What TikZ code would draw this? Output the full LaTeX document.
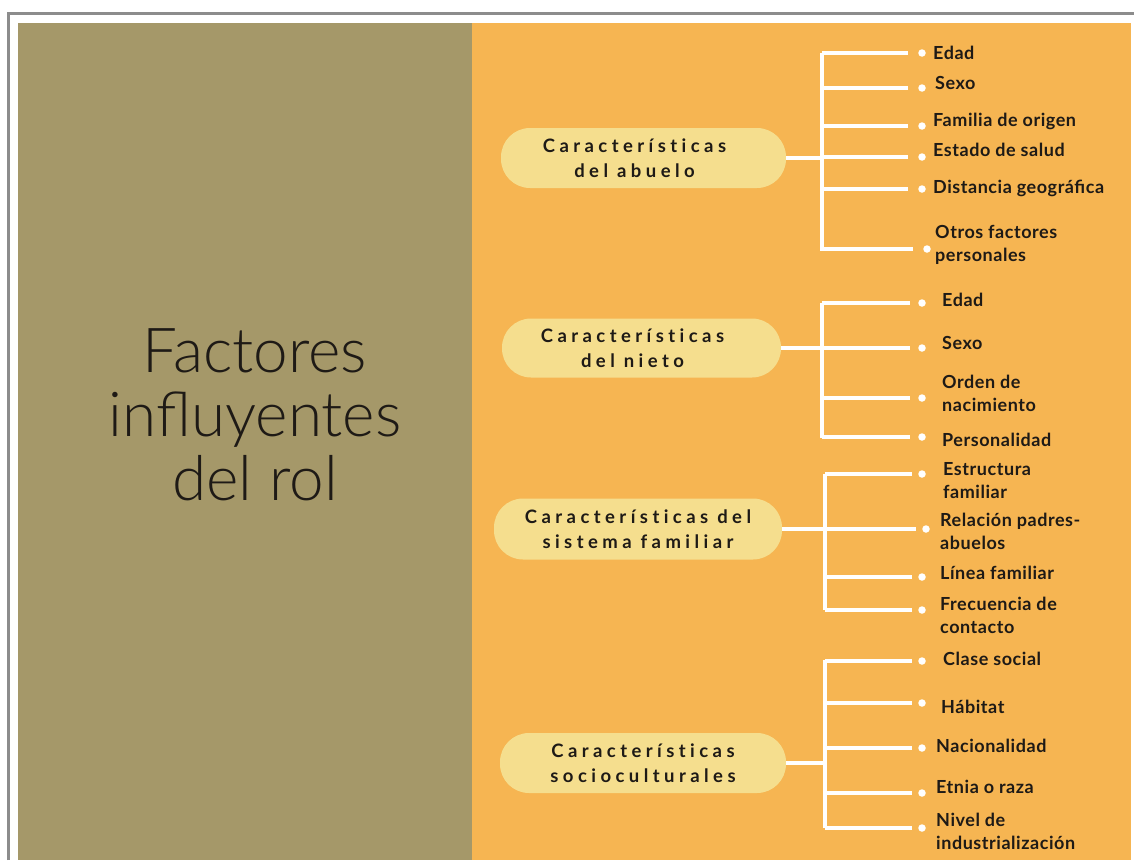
\documentclass[tikz,border=0pt]{standalone}
\usepackage{fontspec}
\setmainfont{Lato}[LetterSpace=3]
\IfFontExistsTF{Lato Light}{\newfontfamily\titlefont{Lato Light}}{\newfontfamily\titlefont{Lato}}
\newfontfamily\catfont{Lato}[LetterSpace=24, RawFeature=-liga]
\usepackage{tikz}
\definecolor{panelolive}{HTML}{A59869}
\definecolor{panelorange}{HTML}{F6B552}
\definecolor{pillyellow}{HTML}{F5DE8E}
\definecolor{framegray}{HTML}{8C8C8C}
\definecolor{inkblack}{HTML}{1E1A16}
\newcommand{\padR}{\hspace*{18pt}}

\begin{document}
\begin{tikzpicture}[x=1pt,y=-1pt,
        pill/.style={fill=pillyellow, rounded corners=29pt, inner sep=0pt, align=center,
            text=inkblack, font=\catfont\bfseries\fontsize{18.5}{25}\selectfont},
        item/.style={anchor=west, inner sep=0pt, align=left, text=inkblack,
            font=\bfseries\fontsize{18}{23}\selectfont},
        bullet/.style={circle, fill=white, inner sep=0pt, minimum size=7.5pt},
        branch/.style={draw=white, line width=4pt}]
        \useasboundingbox[fill=white] (0,0) rectangle (1134,860);
        \draw[framegray, line width=3pt] (8.5,860) -- (8.5,13.5) -- (1134,13.5);
        \fill[panelolive] (18,23) rectangle (472,860);
        \fill[panelorange] (472,23) rectangle (1131,860);

        \node[font=\titlefont\fontsize{62}{64}\selectfont, align=center, text=inkblack] (title) at (255,415) {Factores\\influyentes\\del rol};

        % abuelo
        \node[pill, minimum width=285pt, minimum height=60pt] (abuelo) at (643.5,158) {Características\padR\\del abuelo\padR};
        \coordinate (abueloTop) at (822,53);
        \coordinate (abueloBot) at (822,251);
        \draw[branch] (abueloTop) -- (abueloBot);
        \draw[branch] (abuelo.east) -- (abuelo.east -| abueloTop);
        \foreach \dx/\dy/\tx/\ty/\txt [count=\i] in {922/53/933/53/Edad, 922/88/935/83/Sexo,
            922/126/933/121/Familia de origen, 922/157/933/150/Estado de salud,
            922/189/933/188/Distancia geográfica, 927/249/935/245/{Otros factores\\personales}} {
            \node[bullet] (abuelo-dot-\i) at (\dx,\dy) {};
            \node[item] (abuelo-txt-\i) at (\tx,\ty) {\txt};
            \draw[branch] (abueloTop |- abuelo-dot-\i) -- ([xshift=-10pt]abuelo-dot-\i.west);
        }

        % nieto
        \node[pill, minimum width=279pt, minimum height=59pt] (nieto) at (641.5,348) {Características\padR\\del nieto\padR};
        \coordinate (nietoTop) at (822,303);
        \coordinate (nietoBot) at (822,438);
        \draw[branch] (nietoTop) -- (nietoBot);
        \draw[branch] (nieto.east) -- (nieto.east -| nietoTop);
        \foreach \dx/\dy/\tx/\ty/\txt [count=\i] in {922/303/942/300/Edad, 922/348/942/343/Sexo,
            922/398/942/393/{Orden de\\nacimiento}, 922/437/942/440/Personalidad} {
            \node[bullet] (nieto-dot-\i) at (\dx,\dy) {};
            \node[item] (nieto-txt-\i) at (\tx,\ty) {\txt};
            \draw[branch] (nietoTop |- nieto-dot-\i) -- ([xshift=-8pt]nieto-dot-\i.west);
        }

        % sistema familiar
        \node[pill, minimum width=288pt, minimum height=61pt] (sistema) at (638,529) {Características del\\sistema familiar};
        \coordinate (sistemaTop) at (825,474);
        \coordinate (sistemaBot) at (825,610);
        \draw[branch] (sistemaTop) -- (sistemaBot);
        \draw[branch] (sistema.east) -- (sistema.east -| sistemaTop);
        \foreach \dx/\dy/\tx/\ty/\txt [count=\i] in {922/474/943/481/{Estructura\\familiar},
            926/529/940/531/{Relación padres-\\abuelos}, 922/577/940/573/Línea familiar,
            922/610/940/615/{Frecuencia de\\contacto}} {
            \node[bullet] (sistema-dot-\i) at (\dx,\dy) {};
            \node[item] (sistema-txt-\i) at (\tx,\ty) {\txt};
            \draw[branch] (sistemaTop |- sistema-dot-\i) -- ([xshift=-6pt]sistema-dot-\i.west);
        }

        % socioculturales
        \node[pill, minimum width=286pt, minimum height=60pt] (socio) at (643,763) {Características\\socioculturales};
        \coordinate (socioTop) at (825,660);
        \coordinate (socioBot) at (825,828);
        \draw[branch] (socioTop) -- (socioBot);
        \draw[branch] (socio.east) -- (socio.east -| socioTop);
        \foreach \dx/\dy/\tx/\ty/\txt [count=\i] in {922/661/943/659/Clase social, 922/703/941/707/Hábitat,
            922/748/936/746/Nacionalidad, 922/793/936/787/Etnia o raza,
            922/828/936/831/{Nivel de\\industrialización}} {
            \node[bullet] (socio-dot-\i) at (\dx,\dy) {};
            \node[item] (socio-txt-\i) at (\tx,\ty) {\txt};
            \draw[branch] (socioTop |- socio-dot-\i) -- ([xshift=-6pt]socio-dot-\i.west);
        }
\end{tikzpicture}
\end{document}
